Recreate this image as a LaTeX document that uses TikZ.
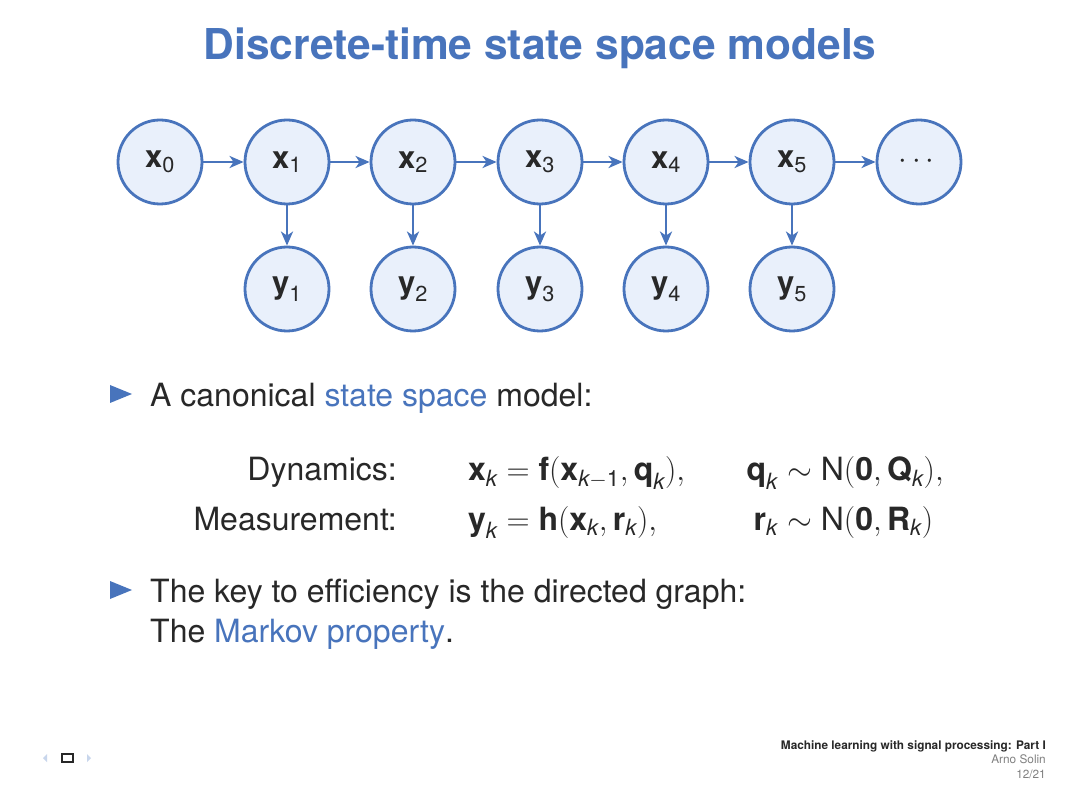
\RequirePackage{fix-cm}
\documentclass[tikz,border=0pt]{standalone}
\usepackage{amsmath}
\usepackage{fontspec}
\setmainfont{TeX Gyre Heros}
\usetikzlibrary{arrows.meta}
\definecolor{sblue}{RGB}{72,116,188}
\definecolor{nfill}{RGB}{233,240,251}
\definecolor{txt}{RGB}{40,40,40}
\definecolor{navlight}{RGB}{200,214,236}
\newcommand\bsf[1]{\text{\bfseries #1}}
\newcommand\kk{\text{\itshape k}}
\newcommand\rsf[1]{\text{#1}}
\begin{document}
\begin{tikzpicture}[x=1pt,y=-1pt,
  state/.style={circle, draw=sblue, fill=nfill, line width=2.8pt, minimum size=84pt, inner sep=0pt, font=\fontsize{31}{37}\selectfont, text=txt},
  arr/.style={draw=sblue, line width=2.5pt, -{Stealth[length=14pt,width=12pt,inset=4pt]}},
  body/.style={font=\fontsize{32}{38}\selectfont, text=txt, inner sep=0pt},
  foot/.style={font=\fontsize{11.8}{13}\selectfont, inner sep=0pt}]
\useasboundingbox (0,0) rectangle (1080,810);
\fill[white] (0,0) rectangle (1080,810);
% title
\node[anchor=base, inner sep=0pt, font=\fontsize{42.5}{50}\selectfont\bfseries, text=sblue] (title) at (540,60) {Discrete-time state space models};
% graph
\node[state] (x0) at (160,162) {$\bsf{x}_{\rsf{0}}$};
\node[state] (x1) at (287,162) {$\bsf{x}_{\rsf{1}}$};
\node[state] (x2) at (413,162) {$\bsf{x}_{\rsf{2}}$};
\node[state] (x3) at (540,162) {$\bsf{x}_{\rsf{3}}$};
\node[state] (x4) at (666,162) {$\bsf{x}_{\rsf{4}}$};
\node[state] (x5) at (792,162) {$\bsf{x}_{\rsf{5}}$};
\node[state] (xd) at (919,162) {$\cdots$};
\node[state] (y1) at (287,289) {$\bsf{y}_{\rsf{1}}$};
\node[state] (y2) at (413,289) {$\bsf{y}_{\rsf{2}}$};
\node[state] (y3) at (540,289) {$\bsf{y}_{\rsf{3}}$};
\node[state] (y4) at (666,289) {$\bsf{y}_{\rsf{4}}$};
\node[state] (y5) at (792,289) {$\bsf{y}_{\rsf{5}}$};
\draw[arr] (x0) -- (x1);
\draw[arr] (x1) -- (x2);
\draw[arr] (x2) -- (x3);
\draw[arr] (x3) -- (x4);
\draw[arr] (x4) -- (x5);
\draw[arr] (x5) -- (xd);
\draw[arr] (x1) -- (y1);
\draw[arr] (x2) -- (y2);
\draw[arr] (x3) -- (y3);
\draw[arr] (x4) -- (y4);
\draw[arr] (x5) -- (y5);
% bullet 1
\fill[sblue] (110,385) -- (132,394) -- (110,403) -- cycle;
\node[anchor=base west, body] (b1) at (150,407) {A canonical \textcolor{sblue}{state space} model:};
% equations
\node[anchor=base east, body] (dyn) at (397,481) {Dynamics:};
\node[anchor=base east, body] (meas) at (397,530) {Measurement:};
\node[anchor=base west, body] (eq1) at (468,481) {$\bsf{x}_\kk = \bsf{f}(\bsf{x}_{\kk-\rsf{1}}, \bsf{q}_\kk),$};
\node[anchor=base west, body] (eq2) at (468,530) {$\bsf{y}_\kk = \bsf{h}(\bsf{x}_\kk, \bsf{r}_\kk),$};
\node[anchor=base east, body] (q) at (778,481) {$\bsf{q}_\kk$};
\node[anchor=base west, body] (qn) at (778,481) {${}\sim \rsf{N}(\bsf{0}, \bsf{Q}_\kk),$};
\node[anchor=base east, body] (r) at (778,530) {$\bsf{r}_\kk$};
\node[anchor=base west, body] (rn) at (778,530) {${}\sim \rsf{N}(\bsf{0}, \bsf{R}_\kk)$};
% bullet 2
\fill[sblue] (110,581) -- (132,590) -- (110,599) -- cycle;
\node[anchor=base west, body] (b2) at (150,602) {The key to efficiency is the directed graph:};
\node[anchor=base west, body] (b3) at (150,642) {The \textcolor{sblue}{Markov property}.};
% footer
\node[anchor=base east, foot, font=\fontsize{11.8}{13}\selectfont\bfseries, text=txt] (ft1) at (1046,749) {Machine learning with signal processing: Part I};
\node[anchor=base east, foot, text=gray] (ft2) at (1046,763) {Arno Solin};
\node[anchor=base east, foot, text=gray] (ft3) at (1046,778) {12/21};
% navigation symbols
\fill[navlight] (47,754) -- (43,758) -- (47,762) -- cycle;
\draw[txt, line width=1.4pt] (62,754) rectangle (73,762);
\fill[navlight] (87,754) -- (91,758) -- (87,762) -- cycle;
\end{tikzpicture}
\end{document}
